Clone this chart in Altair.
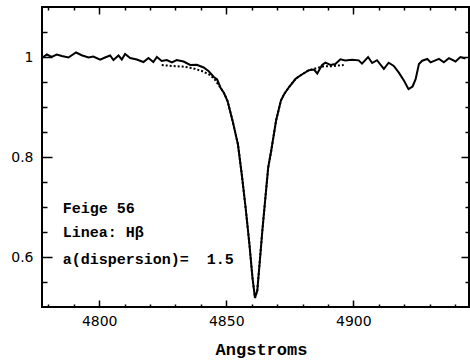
import altair as alt
import pandas as pd

# ---- data ----
wave = [4777.5, 4779.4, 4781.3, 4783.3, 4785.3, 4787.9, 4790.9, 4793.1, 4795.8, 4797.7,
        4800.4, 4802.3, 4804.3, 4805.6, 4807.6, 4808.9, 4810.2, 4812.2, 4814.8, 4817.4,
        4819.4, 4821.3, 4822.7, 4824.6, 4826.6, 4828.6, 4830.5, 4833.2, 4835.8, 4838.4,
        4841.1, 4843.1, 4845.1, 4846.4, 4847.8, 4849.1, 4850.5, 4852.5, 4854.6, 4856.1,
        4857.6, 4859.1, 4860.3, 4861.3, 4862.2, 4863.1, 4864.2, 4865.4, 4866.5, 4867.7,
        4869.6, 4871.5, 4872.8, 4874.7, 4877.3, 4879.9, 4882.5, 4884.5, 4885.8, 4887.7,
        4889.0, 4891.0, 4892.9, 4894.9, 4896.8, 4899.5, 4902.1, 4903.4, 4905.8, 4907.4,
        4909.3, 4912.0, 4913.9, 4915.9, 4917.9, 4920.0, 4921.7, 4923.3, 4924.5, 4925.8,
        4927.1, 4929.1, 4930.4, 4933.7, 4935.6, 4937.6, 4940.2, 4942.1, 4944.1]
flux = [0.998, 1.005, 1.000, 1.005, 1.002, 0.999, 1.009, 1.0035, 0.999, 1.001,
        0.9945, 0.999, 1.003, 0.994, 1.003, 0.995, 1.006, 0.998, 0.995, 0.990,
        0.998, 0.990, 1.000, 0.992, 0.994, 0.989, 0.994, 0.991, 0.984, 0.9845,
        0.979, 0.9715, 0.960, 0.955, 0.938, 0.928, 0.912, 0.872, 0.825, 0.765,
        0.699, 0.626, 0.559, 0.518, 0.533, 0.586, 0.653, 0.719, 0.779, 0.813,
        0.873, 0.913, 0.926, 0.940, 0.9565, 0.9655, 0.9736, 0.975, 0.967, 0.984,
        0.9886, 0.984, 0.986, 0.9955, 0.993, 0.9945, 0.9933, 0.9867, 1.000, 0.988,
        0.9936, 0.9764, 0.9885, 0.982, 0.9687, 0.952, 0.9357, 0.941, 0.9558, 0.9859,
        0.9926, 0.996, 0.9893, 0.9963, 0.9896, 0.9977, 0.991, 1.000, 0.997]

fit_wave = [4824.6, 4828.6, 4832.5, 4836.5, 4840.4, 4843.3, 4845.2, 4847.8, 4849.1, 4850.5,
            4852.5, 4854.6, 4856.1, 4857.6, 4859.1, 4860.3, 4861.3, 4862.2, 4863.1, 4864.2,
            4865.4, 4866.5, 4867.7, 4869.6, 4871.5, 4872.8, 4874.7, 4877.3, 4879.9, 4882.5,
            4885.1, 4888.3, 4891.6, 4896.2]
fit_flux = [0.984, 0.982, 0.981, 0.978, 0.972, 0.965, 0.957, 0.938, 0.928, 0.912,
            0.872, 0.825, 0.765, 0.699, 0.626, 0.559, 0.518, 0.533, 0.586, 0.653,
            0.719, 0.779, 0.813, 0.873, 0.913, 0.926, 0.940, 0.9565, 0.9655, 0.9736,
            0.977, 0.9815, 0.9817, 0.984]

ann_text = ["Feige 56", "Linea: H\u03b2", "a(dispersion)=\u00a0 1.5"]
ann_x = [4785.7, 4785.7, 4785.7]
ann_y = [0.689, 0.641, 0.587]

x_labels = [4800, 4850, 4900]
y_labels = [0.6, 0.8, 1.0]
x_ticks = [4780, 4790, 4800, 4810, 4820, 4830, 4840, 4850, 4860, 4870,
           4880, 4890, 4900, 4910, 4920, 4930, 4940]
y_ticks = [0.55, 0.6, 0.65, 0.7, 0.75, 0.8, 0.85, 0.9, 0.95, 1.0, 1.05]

x_domain = [4777.5, 4945.5]
y_domain = [0.5, 1.1]

W, H = 427, 300

spec_df = pd.DataFrame({"wave": wave, "flux": flux})
fit_df = pd.DataFrame({"wave": fit_wave, "flux": fit_flux})
ann_df = pd.DataFrame({"text": ann_text, "wave": ann_x, "flux": ann_y})

xs = alt.Scale(domain=x_domain, nice=False, zero=False)
ys = alt.Scale(domain=y_domain, nice=False, zero=False)

x_major = {"condition": {"test": "datum.value % 50 === 0", "value": 7}, "value": 3}
y_major_left = {"condition": {"test": "datum.value === 0.6 || datum.value === 0.8 || datum.value === 1",
                              "value": 10}, "value": 5}
y_major_right = {"condition": {"test": "datum.value === 0.6 || datum.value === 0.8 || datum.value === 1",
                               "value": 8}, "value": 4}


def tick_axis(orient, offset, values, size):
    return alt.Axis(orient=orient, offset=offset, values=values, labels=False,
                    domain=False, grid=False, ticks=True, tickSize=size,
                    tickWidth=1.5, tickColor="black", title=None)


# dotted fit: its axes draw inward ticks on the bottom and left edges
fit = alt.Chart(fit_df).mark_line(
    color="black", strokeWidth=2, strokeDash=[2, 2]
).encode(
    x=alt.X("wave:Q", scale=xs, axis=tick_axis("top", -H, x_ticks, x_major)),
    y=alt.Y("flux:Q", scale=ys, axis=tick_axis("right", -W, y_ticks, y_major_left)),
)

# observed spectrum: carries the labelled axes
spec = alt.Chart(spec_df).mark_line(color="black", strokeWidth=2).encode(
    x=alt.X("wave:Q", scale=xs, axis=alt.Axis(
        orient="bottom", values=x_labels, format="d", ticks=False, domain=False,
        grid=False, labelFont="DejaVu Sans", labelFontSize=14, labelColor="black",
        labelPadding=7, title="Angstroms", titleFont="Liberation Mono",
        titleFontSize=17, titleFontWeight="bold", titleColor="black",
        titleBaseline="alphabetic", titleY=47, titleX=219)),
    y=alt.Y("flux:Q", scale=ys, axis=alt.Axis(
        orient="left", values=y_labels, format=".1~f", ticks=False, domain=False,
        grid=False, labelFont="DejaVu Sans", labelFontSize=14, labelColor="black",
        labelPadding=9, title=None)),
)

# annotation text: its axes draw inward ticks on the top and right edges
ann = alt.Chart(ann_df).mark_text(
    align="left", baseline="alphabetic", font="Liberation Mono", fontSize=15,
    fontWeight="bold", color="black"
).encode(
    x=alt.X("wave:Q", scale=xs, axis=tick_axis("bottom", -H, x_ticks, x_major)),
    y=alt.Y("flux:Q", scale=ys, axis=tick_axis("left", -W, y_ticks, y_major_right)),
    text="text:N",
)

chart = alt.layer(fit, spec, ann).resolve_axis(
    x="independent", y="independent"
).properties(
    width=W, height=H,
    autosize=alt.AutoSizeParams(type="none"),
    padding={"left": 42, "top": 7, "right": 1, "bottom": 53},
    background="white",
).configure_view(stroke="black", strokeWidth=2)

chart.save("out.html", embed_options={"renderer": "svg", "actions": False})
